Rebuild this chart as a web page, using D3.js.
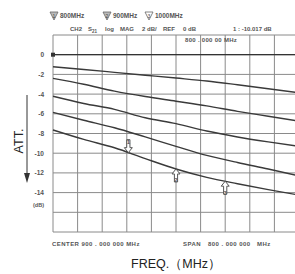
<!DOCTYPE html>
<html><head><meta charset="utf-8">
<script src="https://cdn.jsdelivr.net/npm/d3@7"></script>
<style>
html,body{margin:0;padding:0;background:#fff;}
svg{display:block;}
text{font-family:"Liberation Sans",Arial,sans-serif;}
</style></head>
<body>
<svg id="c" width="295" height="274"></svg>
<script>
// ---- data ----
const freqs = [500, 600, 700, 800, 900, 1000, 1100, 1200, 1300];
const curve1 = [-1.22, -1.5, -1.79, -2.08, -2.37, -2.67, -3.05, -3.45, -3.87];
const curve2 = [-2.4, -3.0, -3.7, -4.25, -4.72, -5.2, -5.75, -6.25, -6.75];
const curve3 = [-4.22, -4.95, -5.55, -6.4, -7.0, -7.75, -8.35, -8.85, -9.3];
const curve4 = [-5.85, -6.65, -7.42, -8.35, -9.3, -10.22, -10.95, -11.6, -12.3];
const curve5 = [-7.64, -8.6, -9.45, -10.55, -11.6, -12.45, -13.1, -13.7, -14.25];
const refLevel = [0, 0];
const refFreqs = [500, 1300];
const yTicks = [0, -2, -4, -6, -8, -10, -12, -14];
const yGridTicks = [2, 0, -2, -4, -6, -8, -10, -12, -14, -16, -18];
const xGridTicks = [500, 580, 660, 740, 820, 900, 980, 1060, 1140, 1220, 1300];
const markerFreqs = [745, 900, 1060];
const markerCurve = [curve5, curve5, curve5];
const markerDir = ["down", "up", "up"];
const legendLabels = ["800MHz", "900MHz", "1000MHz"];
const headerItems = ["CH2", "S", "log", "MAG", "2 dB/", "REF", "0 dB", "1 :  -10.017 dB"];

// ---- scales ----
const x = d3.scaleLinear().domain([500, 1300]).range([53, 299]);
const y = d3.scaleLinear().domain([2, -18]).range([35, 232]);
const svg = d3.select("#c");

// grid
const g = svg.append("g");
g.selectAll("line.h").data(yGridTicks).join("line")
  .attr("x1", x(500)).attr("x2", x(1300))
  .attr("y1", d => y(d)).attr("y2", d => y(d))
  .attr("stroke", "#8a8a8a").attr("stroke-width", 1);
g.selectAll("line.v").data(xGridTicks).join("line")
  .attr("y1", y(2)).attr("y2", y(-18))
  .attr("x1", d => x(d)).attr("x2", d => x(d))
  .attr("stroke", "#8a8a8a").attr("stroke-width", 1);

// y tick labels
svg.append("g").selectAll("text").data(yTicks).join("text")
  .attr("x", 44).attr("y", d => y(d) + 2.5)
  .attr("text-anchor", "end").attr("font-size", 6.5).attr("font-weight", "bold")
  .attr("fill", "#555").text(d => d);
svg.append("text").attr("x", 44).attr("y", y(-15.2) + 2.5).attr("text-anchor", "end")
  .attr("font-size", 5.5).attr("font-weight", "bold").attr("fill", "#555").text("(dB)");

// reference line + marker square
const line = d3.line().x((d, i) => x(d[0])).y(d => y(d[1])).curve(d3.curveMonotoneX);
svg.append("path").attr("d", line(refFreqs.map((f, i) => [f, refLevel[i]])))
  .attr("fill", "none").attr("stroke", "#333").attr("stroke-width", 1.3);
svg.append("rect").attr("x", x(500) - 2).attr("y", y(0) - 2).attr("width", 4).attr("height", 4).attr("fill", "#333");

// curves
const curves = [curve1, curve2, curve3, curve4, curve5];
svg.append("g").selectAll("path").data(curves).join("path")
  .attr("d", c => line(freqs.map((f, i) => [f, c[i]])))
  .attr("fill", "none").attr("stroke", "#3a3a3a").attr("stroke-width", 1.4);

// markers (hollow arrows)
function interp(c, f) {
  return d3.scaleLinear().domain(freqs).range(c)(f);
}
markerFreqs.forEach((f, i) => {
  const mx = x(f), my = y(interp(markerCurve[i], f));
  const s = markerDir[i] === "down" ? -1 : 1;
  const p = [[mx, my], [mx - 4, my + s * 5], [mx - 1.6, my + s * 5], [mx - 1.6, my + s * 13],
             [mx + 1.6, my + s * 13], [mx + 1.6, my + s * 5], [mx + 4, my + s * 5]];
  svg.append("path").attr("d", "M" + p.join("L") + "Z")
    .attr("fill", "#fff").attr("stroke", "#555").attr("stroke-width", 1);
  svg.append("text").attr("x", mx).attr("y", my + s * 11 + 2.5).attr("text-anchor", "middle")
    .attr("font-size", 6).attr("font-weight", "bold").attr("fill", "#555").text(i + 1);
});

// legend (top)
const legX = [50, 103, 145];
legendLabels.forEach((t, i) => {
  const lx = legX[i], ly = 12;
  svg.append("path").attr("d", `M${lx},${ly}L${lx + 8},${ly}L${lx + 4},${ly + 8}Z`)
    .attr("fill", i < 2 ? "#bbb" : "#fff").attr("stroke", "#666").attr("stroke-width", 0.8);
  svg.append("text").attr("x", lx + 4).attr("y", ly + 5.5).attr("text-anchor", "middle")
    .attr("font-size", 5).attr("fill", "#444").text(i + 1);
  svg.append("text").attr("x", lx + 10).attr("y", ly + 6).attr("font-size", 6.5).attr("font-weight", "bold")
    .attr("fill", "#555").text(t);
});

// header row
const headX = [70, 88, 105, 120, 142, 163, 183, 233];
const hdr = svg.append("g").attr("font-size", 6).attr("fill", "#555").attr("font-weight", "bold");
headerItems.forEach((t, i) => {
  const tx = hdr.append("text").attr("x", headX[i]).attr("y", 31).text(t);
  if (t === "S") tx.append("tspan").attr("dy", 1.5).attr("font-size", 4.5).text("21");
});
hdr.append("text").attr("x", 185).attr("y", 41.5).attr("letter-spacing", 0.3).text("800 . 000 00  MHz");

// bottom texts
const bot = svg.append("g").attr("font-size", 6).attr("fill", "#555").attr("font-weight", "bold")
  .attr("letter-spacing", 0.45);
bot.append("text").attr("x", 52).attr("y", 246).text("CENTER   900 . 000 000  MHz");
bot.append("text").attr("x", 183).attr("y", 246).text("SPAN");
bot.append("text").attr("x", 208).attr("y", 246).text("800 . 000 000");
bot.append("text").attr("x", 257).attr("y", 246).text("MHz");

svg.append("text").attr("x", 176).attr("y", 268).attr("text-anchor", "middle")
  .attr("font-size", 12.5).attr("fill", "#222").text("FREQ.（MHz）");

// ATT. label + arrow
svg.append("text").attr("transform", "translate(23,141) rotate(-90)")
  .attr("text-anchor", "middle").attr("font-size", 12.5).attr("fill", "#222").text("ATT.");
svg.append("line").attr("x1", 27).attr("x2", 27).attr("y1", 95).attr("y2", 176)
  .attr("stroke", "#333").attr("stroke-width", 1);
svg.append("path").attr("d", "M24,173L30,173L27,183Z").attr("fill", "#333");
</script>
</body></html>
